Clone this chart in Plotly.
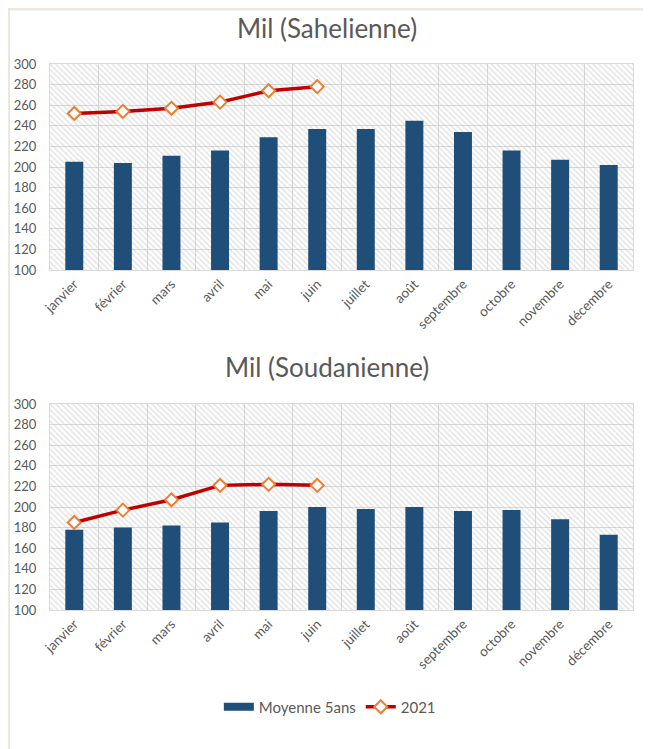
import plotly.graph_objects as go

months = ["janvier", "février", "mars", "avril", "mai", "juin", "juillet",
          "août", "septembre", "octobre", "novembre", "décembre"]
months_2021 = months[:6]

sahel_moy5 = [205, 204, 211, 216, 229, 237, 237, 245, 234, 216, 207, 202]
sahel_2021 = [252, 254, 257, 263, 274, 278]

soudan_moy5 = [178, 180, 182, 185, 196, 200, 198, 200, 196, 197, 188, 173]
soudan_2021 = [185, 197, 207, 221, 222, 221]

y_range = [100, 300]
y_ticks = list(range(100, 301, 20))

titles = ["Mil (Sahelienne)", "Mil (Soudanienne)"]
series_names = ["Moyenne 5ans", "2021"]

NAVY = "#1f4e79"
RED = "#c00000"
ORANGE = "#ed7d31"
GRID = "#d9d9d9"
TXT = "#595959"
FONT = "Lato"

# page offset of the plot div inside the browser window (body margin)
OFF = 8

fig = go.Figure()

panels = [
    ("x", "y", sahel_moy5, sahel_2021),
    ("x2", "y2", soudan_moy5, soudan_2021),
]

for xa, ya, moy, y21 in panels:
    # hatched background of plot area
    fig.add_trace(go.Bar(
        x=months, y=[y_range[1] - y_range[0]] * len(months), base=y_range[0],
        width=1.0, xaxis=xa, yaxis=ya, showlegend=False, hoverinfo="skip",
        marker=dict(color="rgba(0,0,0,0)", line=dict(width=0),
                    pattern=dict(shape="\\", fgcolor="#bdbdbd",
                                 bgcolor="rgba(0,0,0,0)", size=4, solidity=0.3)),
    ))
    fig.add_trace(go.Bar(
        x=months, y=[v - y_range[0] for v in moy], base=y_range[0],
        width=0.37, xaxis=xa, yaxis=ya, name=series_names[0],
        marker=dict(color=NAVY, line=dict(width=0)),
        showlegend=False, legendgroup="moy",
    ))
    fig.add_trace(go.Scatter(
        x=months_2021, y=y21, xaxis=xa, yaxis=ya, name=series_names[1],
        mode="lines+markers",
        line=dict(color=RED, width=3.5),
        marker=dict(symbol="diamond", size=10, color="white",
                    line=dict(color=ORANGE, width=2)),
        showlegend=(xa == "x"), legendgroup="y21",
    ))

# legend entry for the bars drawn as a wide bar-like swatch
fig.add_trace(go.Scatter(
    x=[None], y=[None], mode="lines", name=series_names[0],
    line=dict(color=NAVY, width=8), legendgroup="moy", legendrank=1,
    showlegend=True,
))
fig.data[2].legendrank = 2

axis_x = dict(
    type="category", categoryorder="array", categoryarray=months,
    range=[-0.5, 11.5], tickson="boundaries", showgrid=True, gridcolor=GRID,
    gridwidth=1, ticks="outside", ticklen=8, tickcolor="rgba(0,0,0,0)",
    tickangle=-45, showline=True, linecolor=GRID,
    linewidth=1, mirror=True, tickfont=dict(size=13.5, color=TXT, family=FONT),
    fixedrange=True, automargin=False,
)
axis_y = dict(
    range=y_range, tickvals=y_ticks, showgrid=True, gridcolor=GRID, gridwidth=1,
    ticks="outside", ticklen=10, tickcolor="rgba(0,0,0,0)",
    showline=True, linecolor=GRID, linewidth=1, mirror=True,
    zeroline=False, tickfont=dict(size=13, color=TXT, family=FONT),
    fixedrange=True, automargin=False,
)

top_dom = [1 - 206 / 546, 1]
bot_dom = [0, 206 / 546]

fig.update_layout(
    width=651, height=749,
    margin=dict(l=50 - OFF, r=18 + OFF, t=64 - OFF, b=139 + OFF),
    paper_bgcolor="white", plot_bgcolor="white",
    barmode="overlay",
    xaxis=dict(axis_x, domain=[0, 1], anchor="y"),
    yaxis=dict(axis_y, domain=top_dom, anchor="x"),
    xaxis2=dict(axis_x, domain=[0, 1], anchor="y2"),
    yaxis2=dict(axis_y, domain=bot_dom, anchor="x2"),
    font=dict(family=FONT, color=TXT),
    showlegend=True,
    legend=dict(orientation="h", x=0.48, xanchor="center",
                y=(610 - 707) / 546, yanchor="middle",
                font=dict(size=15, color=TXT, family=FONT),
                tracegroupgap=0),
    annotations=[
        dict(text=titles[0], xref="paper", yref="paper", x=(327 - 50) / 583,
             y=(610 - 28) / 546, xanchor="center", yanchor="middle",
             showarrow=False, font=dict(size=26, color=TXT, family=FONT)),
        dict(text=titles[1], xref="paper", yref="paper", x=(327 - 50) / 583,
             y=(610 - 367) / 546, xanchor="center", yanchor="middle",
             showarrow=False, font=dict(size=26, color=TXT, family=FONT)),
    ],
    shapes=[
        dict(type="line", xref="paper", yref="paper",
             x0=(OFF - 50) / 583, x1=(651 - 50) / 583,
             y0=(610 - OFF - 1) / 546, y1=(610 - OFF - 1) / 546,
             line=dict(color="#ede7e2", width=3)),
        dict(type="line", xref="paper", yref="paper",
             x0=(OFF + 1 - 50) / 583, x1=(OFF + 1 - 50) / 583,
             y0=(610 - OFF) / 546, y1=(610 - 749) / 546,
             line=dict(color="#ede7e2", width=2)),
    ],
)

fig.write_html("out.html")
